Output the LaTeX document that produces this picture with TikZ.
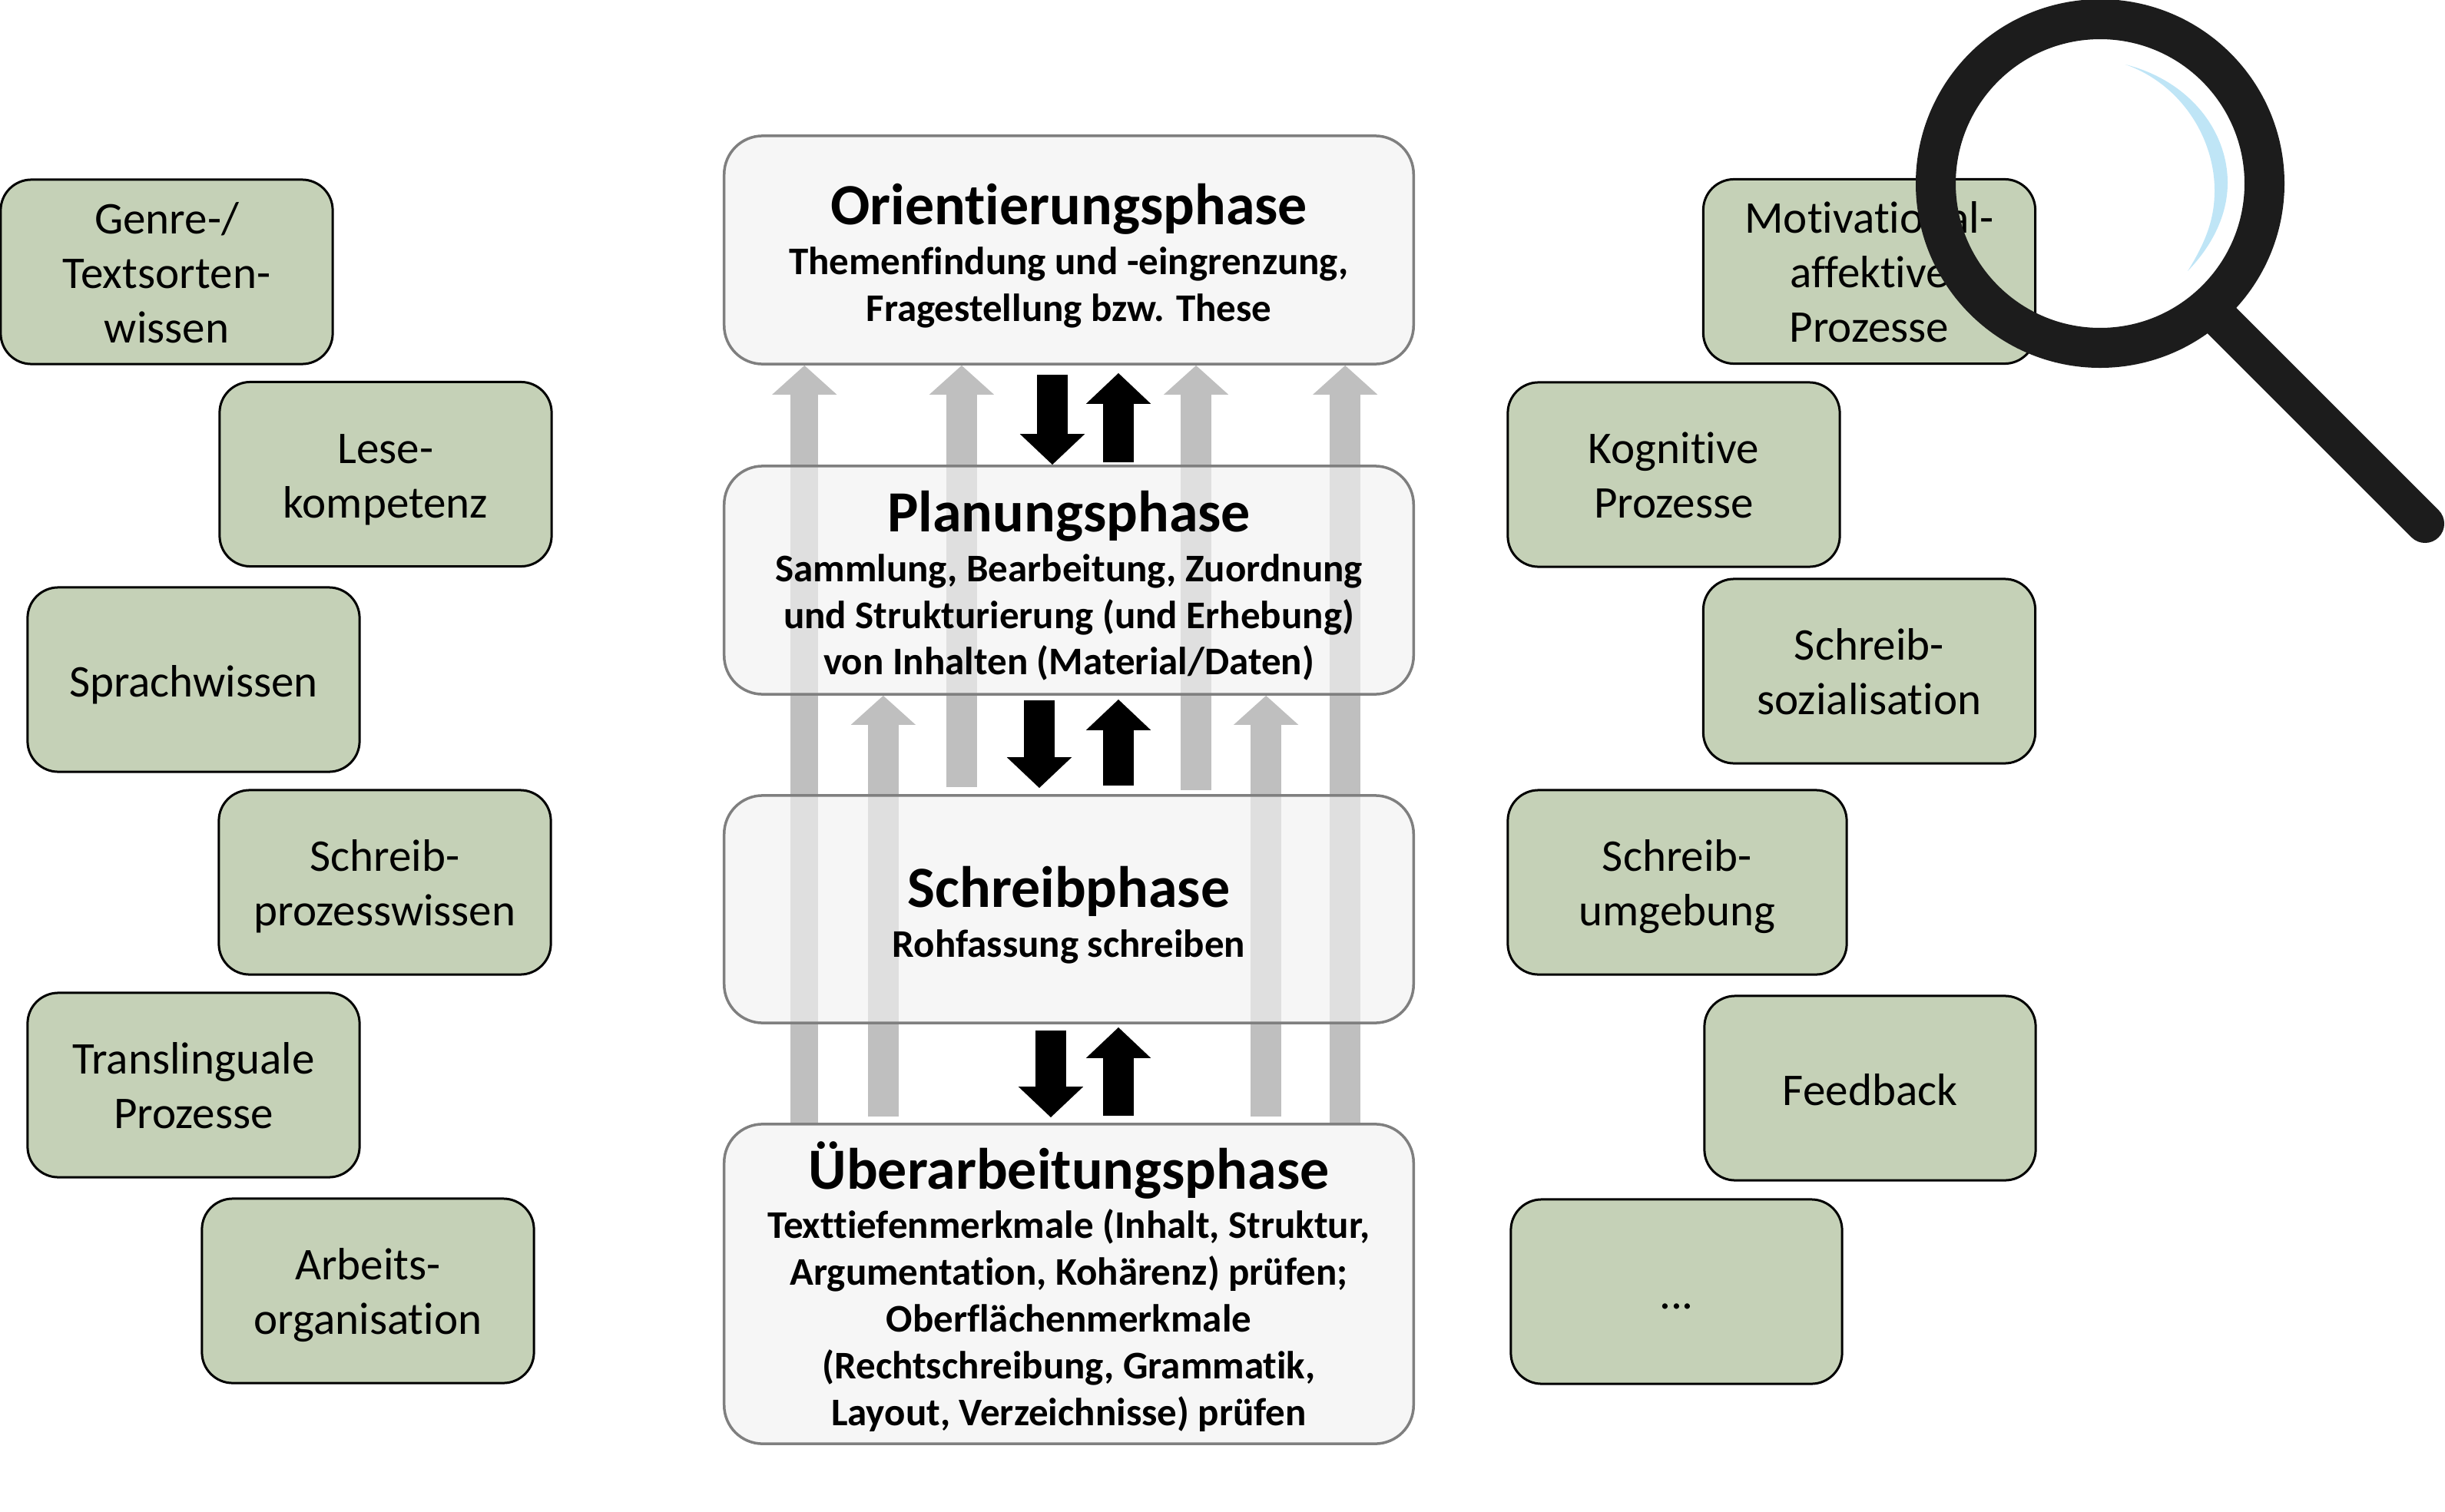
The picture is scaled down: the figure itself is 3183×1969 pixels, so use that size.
\documentclass[tikz,border=0pt]{standalone}
\usepackage{fontspec}
\setmainfont[Ligatures=NoCommon]{Carlito}
\usetikzlibrary{arrows.meta}
\definecolor{boxgreen}{HTML}{C5D1B7}
\definecolor{boxlight}{HTML}{F1F1F1}
\definecolor{boxline}{HTML}{7F7F7F}
\definecolor{arrowgray}{HTML}{BFBFBF}
\definecolor{ringblack}{HTML}{1C1C1C}
\definecolor{lensblue}{HTML}{BFE5F6}
\pgfdeclarelayer{bg}
\pgfsetlayers{bg,main}
\newcommand{\phasetitle}[1]{\rule{0pt}{19.4pt}{\fontsize{21.6}{24}\selectfont #1}\\[1.1pt]}
\newcommand{\boxtop}{\rule{0pt}{18pt}}
\newcommand{\boxbot}{\rule[-6pt]{0pt}{0pt}}
\newcommand{\boxone}{\rule{0pt}{18.6pt}\boxbot}

\begin{document}
\begin{tikzpicture}[x=0.01cm,y=-0.01cm,
    greenbox/.style={draw=black,line width=0.03cm,fill=boxgreen,rounded corners=0.4cm,inner sep=0pt,
        minimum width=4.32cm,minimum height=2.4cm,align=center,font=\fontsize{16.8}{20.2}\selectfont},
    phasebox/.style={draw=boxline,line width=0.035cm,fill=boxlight,fill opacity=0.66,text opacity=1,
        rounded corners=0.5cm,inner sep=0pt,minimum width=8.97cm,align=center,
        font=\fontsize{14.5}{17.3}\selectfont\bfseries},
    grayarrow/.style={draw=arrowgray,line width=0.4cm,-{Triangle[width=0.82cm,length=0.38cm]}},
    blackarrow/.style={draw=black,line width=0.4cm,-{Triangle[width=0.82cm,length=0.4cm]}}]

    \useasboundingbox (0,0) rectangle (3183,1969);

    % left column
    \node[greenbox] (genre) at (217,354) {\boxtop Genre-/\\Textsorten-\\wissen\boxbot};
    \node[greenbox] (lese) at (502,617.5) {\boxtop Lese-\\kompetenz\boxbot};
    \node[greenbox] (sprache) at (252,885) {\boxone Sprachwissen};
    \node[greenbox] (prozess) at (501,1149) {\boxtop Schreib-\\prozesswissen\boxbot};
    \node[greenbox] (transl) at (252,1413) {\boxtop Translinguale\\Prozesse\boxbot};
    \node[greenbox] (arbeit) at (479,1681) {\boxtop Arbeits-\\organisation\boxbot};

    % right column
    \node[greenbox] (motiv) at (2433.5,353.5) {\boxtop Motivational-\\affektive\\Prozesse\boxbot};
    \node[greenbox] (kogn) at (2179,618) {\boxtop Kognitive\\Prozesse\boxbot};
    \node[greenbox] (sozial) at (2433.5,874) {\boxtop Schreib-\\sozialisation\boxbot};
    \node[greenbox,minimum width=4.41cm] (umgebung) at (2183.5,1149) {\boxtop Schreib-\\umgebung\boxbot};
    \node[greenbox,minimum width=4.31cm] (feedback) at (2434.5,1417) {\boxone Feedback};
    \node[greenbox,minimum width=4.31cm] (rest) at (2182.5,1682) {\boxone ...};

    % phases
    \node[phasebox,minimum height=2.97cm] (orient) at (1391.5,325.5)
        {\phasetitle{Orientierungsphase}Themenfindung und -eingrenzung,\\Fragestellung bzw. These};
    \node[phasebox,minimum height=2.97cm] (plan) at (1391.5,755.5)
        {\phasetitle{Planungsphase}Sammlung, Bearbeitung, Zuordnung\\und Strukturierung (und Erhebung)\\von Inhalten (Material/Daten)};
    \node[phasebox,minimum height=2.96cm] (schreib) at (1391.5,1184)
        {\phasetitle{Schreibphase}Rohfassung schreiben};
    \node[phasebox,minimum height=4.16cm] (ueber) at (1391.5,1672)
        {\phasetitle{Überarbeitungsphase}Texttiefenmerkmale (Inhalt, Struktur,\\Argumentation, Kohärenz) prüfen;\\Oberflächenmerkmale\\(Rechtschreibung, Grammatik,\\Layout, Verzeichnisse) prüfen};

    \begin{pgfonlayer}{bg}
        \draw[grayarrow,line width=0.36cm] ([xshift=-3.44cm]ueber.north) -- ([xshift=-3.44cm]orient.south);
        \draw[grayarrow] ([xshift=-1.395cm,yshift=0.09cm]schreib.north) -- ([xshift=-1.395cm]orient.south);
        \draw[grayarrow] ([xshift=1.655cm,yshift=0.05cm]schreib.north) -- ([xshift=1.655cm]orient.south);
        \draw[grayarrow] ([xshift=3.595cm]ueber.north) -- ([xshift=3.595cm]orient.south);
        \draw[grayarrow] ([xshift=-2.415cm,yshift=0.08cm]ueber.north) -- ([xshift=-2.415cm]plan.south);
        \draw[grayarrow] ([xshift=2.565cm,yshift=0.08cm]ueber.north) -- ([xshift=2.565cm]plan.south);

        \draw[blackarrow] ([xshift=-0.215cm,yshift=-0.12cm]orient.south) -- ([xshift=-0.215cm]plan.north);
        \draw[blackarrow] ([xshift=0.645cm,yshift=0.03cm]plan.north) -- ([xshift=0.645cm,yshift=-0.1cm]orient.south);
        \draw[blackarrow] ([xshift=-0.385cm,yshift=-0.06cm]plan.south) -- ([xshift=-0.385cm,yshift=0.08cm]schreib.north);
        \draw[blackarrow] ([xshift=0.645cm,yshift=0.11cm]schreib.north) -- ([xshift=0.645cm,yshift=-0.05cm]plan.south);
        \draw[blackarrow] ([xshift=-0.235cm,yshift=-0.08cm]schreib.south) -- ([xshift=-0.235cm,yshift=0.07cm]ueber.north);
        \draw[blackarrow] ([xshift=0.645cm,yshift=0.09cm]ueber.north) -- ([xshift=0.645cm,yshift=-0.04cm]schreib.south);
    \end{pgfonlayer}

    % magnifying glass
    \draw[ringblack,line width=0.52cm] (2734,239) circle[radius=214];
    \draw[ringblack,line width=0.5cm,line cap=round] (2880,405) -- (3157,682);
    \fill[lensblue] (2767,84) .. controls (2850,105) and (2900,170) .. (2900,238)
        .. controls (2900,280) and (2880,320) .. (2848,353)
        .. controls (2875,310) and (2883,280) .. (2883,248)
        .. controls (2883,180) and (2840,110) .. (2767,84) -- cycle;

\end{tikzpicture}
\end{document}
